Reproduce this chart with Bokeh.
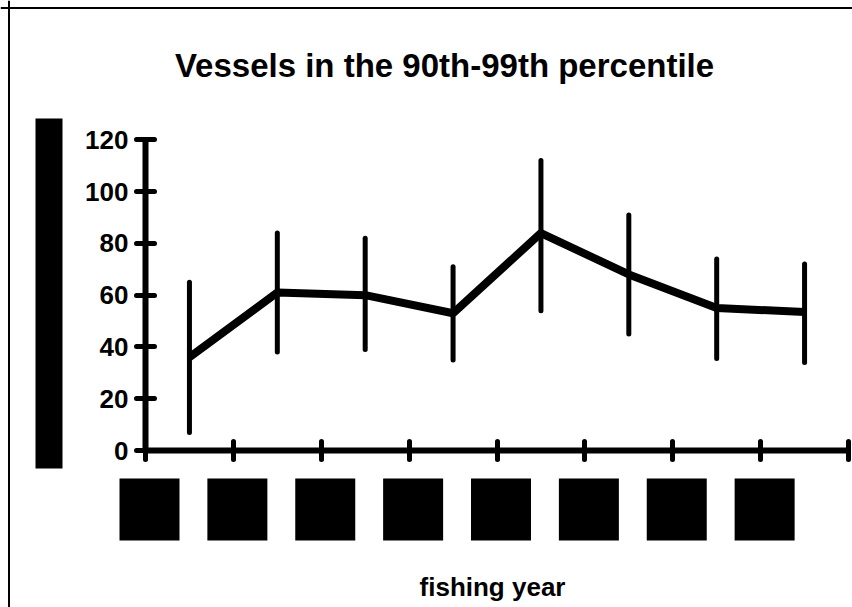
from bokeh.plotting import figure
from bokeh.models import FixedTicker, Label, Span, BoxAnnotation
from bokeh.embed import file_html
from bokeh.resources import INLINE

# ---- data ----
year_slots = [0, 1, 2, 3, 4, 5, 6, 7]          # 8 fishing years (labels redacted)
vessels_mean = [36, 61, 60, 53, 84, 68, 55, 53.5]
vessels_upper = [65, 84, 82, 71, 112, 91, 74, 72]
vessels_lower = [7, 38, 39, 35, 54, 45, 35.5, 34]
y_ticks = [0, 20, 40, 60, 80, 100, 120]
x_bounds = [0, 8]

FONT = "Liberation Sans"

# ---- layout geometry (pixels) ----
W, H = 852, 607
PX_X = 87.875      # px per fishing-year slot
PX_Y = 2.589       # px per vessel
X0_PX = 145        # canvas left -> x = 0
Y0_PX = 450        # canvas top  -> y = 0

x_start = -X0_PX / PX_X
x_end = x_start + W / PX_X
y_end = Y0_PX / PX_Y
y_start = y_end - H / PX_Y

p = figure(width=W, height=H, x_range=(x_start, x_end), y_range=(y_start, y_end),
           output_backend="svg", toolbar_location=None, min_border=0)
p.outline_line_color = None
p.background_fill_color = "white"
p.border_fill_color = "white"
p.xgrid.visible = False
p.ygrid.visible = False

for ax in (p.xaxis[0], p.yaxis[0]):
    ax.axis_line_width = 6
    ax.axis_line_color = "black"
    ax.major_tick_line_width = 5
    ax.major_tick_line_color = "black"
    ax.major_tick_line_cap = "round"
    ax.major_tick_in = 9
    ax.major_tick_out = 9
    ax.minor_tick_line_color = None

x_tick_list = list(range(x_bounds[0], x_bounds[1] + 1))
p.xaxis.fixed_location = 0
p.xaxis.bounds = tuple(x_bounds)
p.xaxis.ticker = FixedTicker(ticks=x_tick_list)
p.xaxis.major_label_overrides = {t: "" for t in x_tick_list}

p.yaxis.fixed_location = 0
p.yaxis.bounds = (y_ticks[0], y_ticks[-1])
p.yaxis.ticker = FixedTicker(ticks=y_ticks)
p.yaxis.major_label_text_font = FONT
p.yaxis.major_label_text_font_style = "bold"
p.yaxis.major_label_text_font_size = "26px"
p.yaxis.major_label_text_color = "black"
p.yaxis.major_label_standoff = 8

# ---- data marks ----
xs = [s + 0.5 for s in year_slots]
p.segment(x0=xs, y0=vessels_lower, x1=xs, y1=vessels_upper,
          line_width=5, line_color="black", line_cap="round")
p.line(xs, vessels_mean, line_width=8, line_color="black")

# ---- redacted tick labels (black boxes under each tick) ----
box_half = 30 / PX_X
box_shift = 4 / PX_X
p.quad(left=[s + box_shift - box_half for s in year_slots],
       right=[s + box_shift + box_half for s in year_slots],
       top=-28 / PX_Y, bottom=-90 / PX_Y,
       fill_color="black", line_color=None)

# ---- redacted y-axis label (black bar) ----
p.add_layout(BoxAnnotation(left=-110 / PX_X, right=-83 / PX_X,
                           bottom=-18 / PX_Y, top=332 / PX_Y,
                           fill_color="black", fill_alpha=1.0, line_color=None))

# ---- texts ----
p.add_layout(Label(x=(444 - X0_PX) / PX_X, y=(Y0_PX - 65) / PX_Y,
                   text="Vessels in the 90th-99th percentile",
                   text_font=FONT, text_font_style="bold", text_font_size="33px",
                   text_align="center", text_baseline="alphabetic", text_color="black"))
p.add_layout(Label(x=(492 - X0_PX) / PX_X, y=(Y0_PX - 586) / PX_Y,
                   text="fishing year",
                   text_font=FONT, text_font_style="bold", text_font_size="26px",
                   text_align="center", text_baseline="alphabetic", text_color="black"))

# ---- page border (left and top edges visible in the reference) ----
p.add_layout(Span(location=(8.5 - X0_PX) / PX_X, dimension="height",
                  line_color="black", line_width=2))
p.add_layout(Span(location=(Y0_PX - 7.5) / PX_Y, dimension="width",
                  line_color="black", line_width=2))

open("out.html", "w").write(file_html(p, INLINE))
